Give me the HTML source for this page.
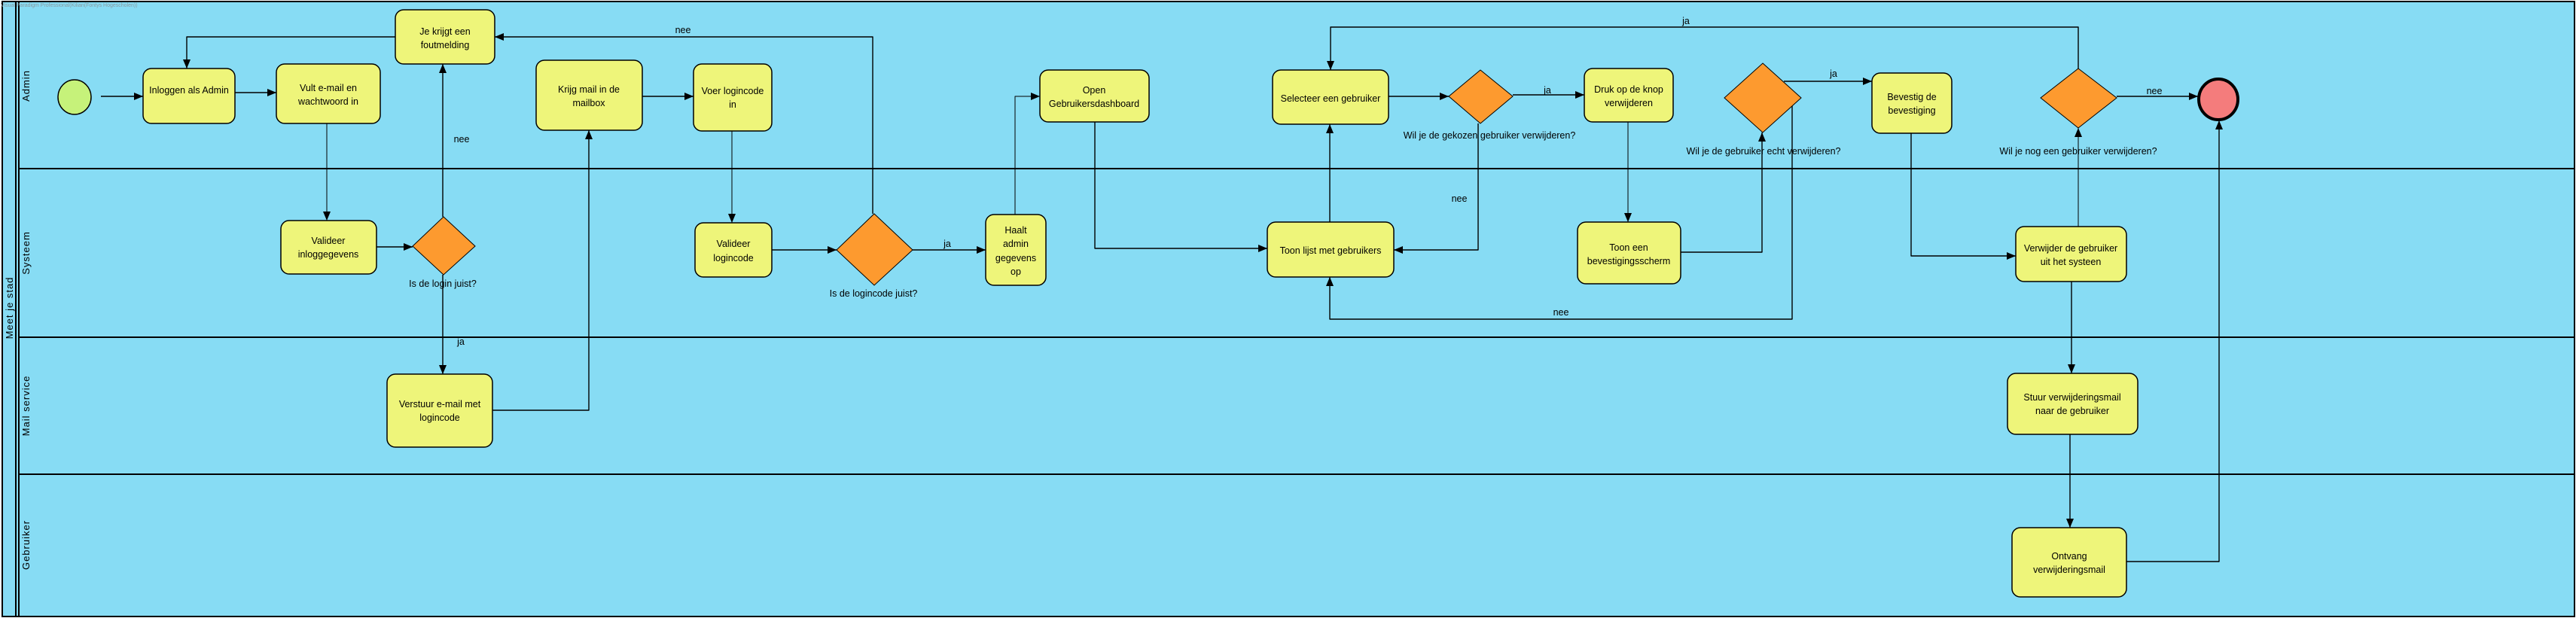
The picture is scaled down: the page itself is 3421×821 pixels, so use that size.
<!DOCTYPE html>
<html><head><meta charset="utf-8"><style>
html,body{margin:0;padding:0;background:#fff;}
svg{display:block;}
text{font-family:"Liberation Sans",sans-serif;font-size:12.5px;fill:#000;}
.b{fill:#eef57a;stroke:#000;stroke-width:1.5;}
.d{fill:#fd9a2f;stroke:#000;stroke-width:1;}
.c{fill:none;stroke:#000;stroke-width:1.4;stroke-linejoin:round;}
.l{fill:none;stroke:#000;stroke-width:2;}
.lab{font-size:13px;letter-spacing:1px;}
</style></head><body>
<svg width="3421" height="821" viewBox="0 0 3421 821" xmlns="http://www.w3.org/2000/svg">
<defs>
<marker id="a" markerWidth="12" markerHeight="10" refX="12" refY="5" orient="auto" markerUnits="userSpaceOnUse">
<path d="M0,0 L12,5 L0,10 z" fill="#000"/></marker>
</defs>
<rect x="3" y="2" width="3416" height="817" fill="#87dcf4" stroke="#000" stroke-width="2"/>
<line class="l" x1="21" y1="2" x2="21" y2="819" stroke-width="1.5"/>
<line class="l" x1="25" y1="2" x2="25" y2="819" stroke-width="1.5"/>
<line class="l" x1="25" y1="224" x2="3419" y2="224"/>
<line class="l" x1="25" y1="448" x2="3419" y2="448"/>
<line class="l" x1="25" y1="630" x2="3419" y2="630"/>
<text x="1" y="9" style="font-size:7px;fill:#8a9aa0">Visual Paradigm Professional(Kilian(Fontys Hogescholen))</text>
<text class="lab" transform="translate(17,409) rotate(-90)" text-anchor="middle">Meet je stad</text>
<text class="lab" transform="translate(39,114) rotate(-90)" text-anchor="middle">Admin</text>
<text class="lab" transform="translate(39,336) rotate(-90)" text-anchor="middle">Systeem</text>
<text class="lab" transform="translate(39,539) rotate(-90)" text-anchor="middle">Mail service</text>
<text class="lab" transform="translate(39,724) rotate(-90)" text-anchor="middle">Gebruiker</text>

<!-- connectors -->
<g class="c" marker-end="url(#a)">
<path d="M134,128 L190,128"/>
<path d="M312,123 L367,123"/>
<path d="M434,164 L434,293" stroke-width="1"/>
<path d="M500,328 L548,328"/>
<path d="M588,288 L588,85"/>
<path d="M588,365 L588,497"/>
<path d="M525,49 L248,49 L248,91"/>
<path d="M654,545 L782,545 L782,173"/>
<path d="M853,128 L921,128"/>
<path d="M972,174 L972,296" stroke-width="1"/>
<path d="M1025,332 L1111,332"/>
<path d="M1159,284 L1159,49 L657,49"/>
<path d="M1212,332 L1309,332"/>
<path d="M1348,285 L1348,128 L1381,128" stroke-width="1"/>
<path d="M1454,162 L1454,330 L1683,330"/>
<path d="M1766,295 L1766,165"/>
<path d="M1844,128 L1924,128"/>
<path d="M2009,126 L2104,126"/>
<path d="M1963,164 L1963,332 L1851,332"/>
<path d="M2162,162 L2162,295" stroke-width="1"/>
<path d="M2232,335 L2340,335 L2340,176"/>
<path d="M2369,108 L2486,108"/>
<path d="M2380,140 L2380,424 L1766,424 L1766,368"/>
<path d="M2538,177 L2538,340 L2677,340"/>
<path d="M2760,301 L2760,170" stroke-width="1"/>
<path d="M2760,91 L2760,36 L1767,36 L1767,93"/>
<path d="M2811,128 L2919,128"/>
<path d="M2751,374 L2751,496"/>
<path d="M2749,577 L2749,701"/>
<path d="M2824,746 L2947,746 L2947,160"/>
</g>

<!-- start/end -->
<ellipse cx="99" cy="129" rx="22" ry="23" fill="#c6f27a" stroke="#000" stroke-width="1.5"/>
<ellipse cx="2946" cy="132" rx="26" ry="27" fill="#f47c7c" stroke="#000" stroke-width="4"/>

<!-- boxes -->
<rect class="b" x="190" y="91" width="122" height="73" rx="11"/>
<rect class="b" x="367" y="85" width="138" height="79" rx="11"/>
<rect class="b" x="525" y="13" width="132" height="72" rx="11"/>
<rect class="b" x="373" y="293" width="127" height="71" rx="11"/>
<rect class="b" x="712" y="80" width="141" height="93" rx="11"/>
<rect class="b" x="921" y="85" width="104" height="89" rx="11"/>
<rect class="b" x="923" y="296" width="102" height="72" rx="11"/>
<rect class="b" x="514" y="497" width="140" height="97" rx="11"/>
<rect class="b" x="1309" y="285" width="80" height="94" rx="11"/>
<rect class="b" x="1381" y="93" width="145" height="69" rx="11"/>
<rect class="b" x="1690" y="93" width="154" height="72" rx="11"/>
<rect class="b" x="1683" y="295" width="168" height="73" rx="11"/>
<rect class="b" x="2104" y="91" width="118" height="71" rx="11"/>
<rect class="b" x="2095" y="295" width="137" height="82" rx="11"/>
<rect class="b" x="2486" y="97" width="106" height="80" rx="11"/>
<rect class="b" x="2677" y="301" width="147" height="73" rx="11"/>
<rect class="b" x="2666" y="496" width="173" height="81" rx="11"/>
<rect class="b" x="2672" y="701" width="152" height="92" rx="11"/>

<!-- diamonds -->
<path class="d" d="M589,288 L631,327 L589,365 L548,327 Z"/>
<path class="d" d="M1161,284 L1212,332 L1161,379 L1111,332 Z"/>
<path class="d" d="M1966,93 L2009,128 L1966,164 L1924,128 Z"/>
<path class="d" d="M2341,84 L2392,130 L2341,176 L2290,130 Z"/>
<path class="d" d="M2760,91 L2811,130 L2760,170 L2710,130 Z"/>

<!-- box texts -->
<g text-anchor="middle">
<text x="251" y="124">Inloggen als Admin</text>
<text x="436" y="121">Vult e-mail en</text><text x="436" y="139">wachtwoord in</text>
<text x="591" y="46">Je krijgt een</text><text x="591" y="64">foutmelding</text>
<text x="436" y="324">Valideer</text><text x="436" y="342">inloggegevens</text>
<text x="782" y="123">Krijg mail in de</text><text x="782" y="141">mailbox</text>
<text x="973" y="125">Voer logincode</text><text x="973" y="143">in</text>
<text x="974" y="328">Valideer</text><text x="974" y="347">logincode</text>
<text x="584" y="541">Verstuur e-mail met</text><text x="584" y="559">logincode</text>
<text x="1349" y="310">Haalt</text><text x="1349" y="328">admin</text><text x="1349" y="347">gegevens</text><text x="1349" y="365">op</text>
<text x="1453" y="124">Open</text><text x="1453" y="142">Gebruikersdashboard</text>
<text x="1767" y="135">Selecteer een gebruiker</text>
<text x="1767" y="337">Toon lijst met gebruikers</text>
<text x="2163" y="123">Druk op de knop</text><text x="2163" y="141">verwijderen</text>
<text x="2163" y="333">Toon een</text><text x="2163" y="351">bevestigingsscherm</text>
<text x="2539" y="133">Bevestig de</text><text x="2539" y="151">bevestiging</text>
<text x="2750" y="334">Verwijder de gebruiker</text><text x="2750" y="352">uit het systeen</text>
<text x="2752" y="532">Stuur verwijderingsmail</text><text x="2752" y="550">naar de gebruiker</text>
<text x="2748" y="743">Ontvang</text><text x="2748" y="761">verwijderingsmail</text>
</g>

<!-- diamond labels -->
<g text-anchor="middle">
<text x="588" y="381">Is de login juist?</text>
<text x="1160" y="394">Is de logincode juist?</text>
<text x="1978" y="184">Wil je de gekozen gebruiker verwijderen?</text>
<text x="2342" y="205">Wil je de gebruiker echt verwijderen?</text>
<text x="2760" y="205">Wil je nog een gebruiker verwijderen?</text>
</g>

<!-- flow labels -->
<g text-anchor="middle">
<text x="613" y="189">nee</text>
<text x="612" y="458">ja</text>
<text x="907" y="44">nee</text>
<text x="1258" y="328">ja</text>
<text x="2055" y="124">ja</text>
<text x="1938" y="268">nee</text>
<text x="2435" y="102">ja</text>
<text x="2073" y="419">nee</text>
<text x="2239" y="32">ja</text>
<text x="2861" y="125">nee</text>
</g>
</svg>
</body></html>
